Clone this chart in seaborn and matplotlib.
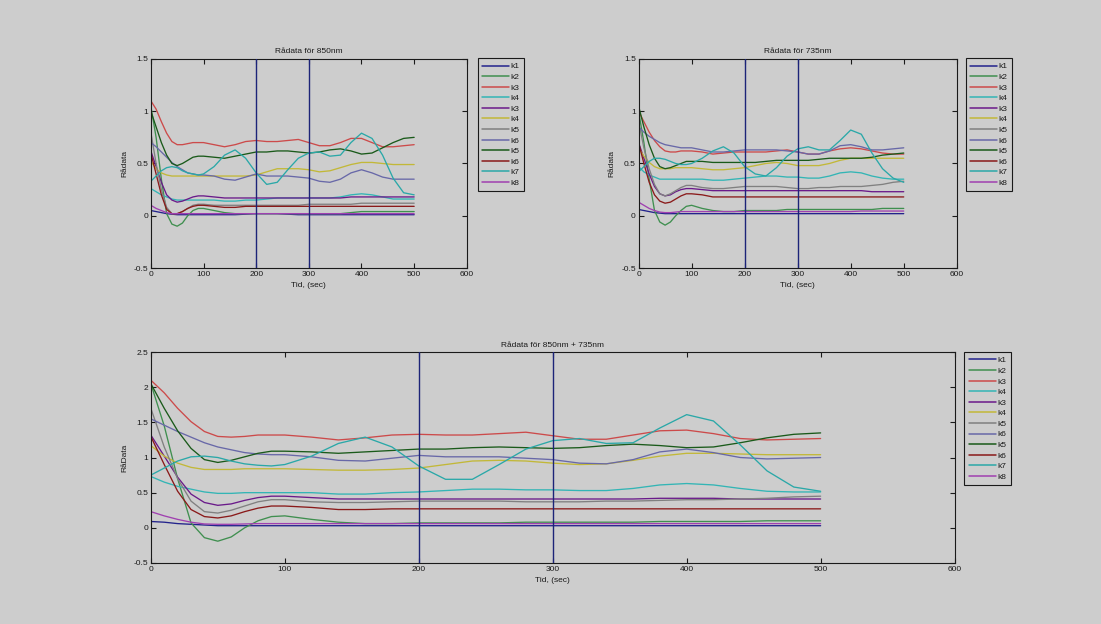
import numpy as np
import pandas as pd
import matplotlib
matplotlib.use("Agg")
import matplotlib.pyplot as plt
import seaborn as sns

# ---------------- data ----------------
T = [0, 10, 20, 30, 40, 50, 60, 70, 80, 90, 100, 120, 140, 160, 180, 200, 220, 240, 260,
     280, 300, 320, 340, 360, 380, 400, 420, 440, 460, 480, 500]

labels = ["k1", "k2", "k3", "k4", "k3", "k4", "k5", "k6", "k5", "k6", "k7", "k8"]
colors = ["#23238c", "#3f8f4f", "#cc4a4a", "#33b5b5", "#6a1a8a", "#c2b838",
          "#808080", "#6868a8", "#1a5a1a", "#8a1a1a", "#2aa8a8", "#a040b0"]

marker_times = [200, 300]

# 850 nm
a_k1 = [0.05, 0.04, 0.03, 0.02, 0.015, 0.01, 0.01, 0.01, 0.01, 0.01, 0.01, 0.01, 0.01, 0.01, 0.015, 0.02,
        0.02, 0.02, 0.015, 0.01, 0.01, 0.01, 0.01, 0.01, 0.01, 0.01, 0.01, 0.01, 0.01, 0.01, 0.01]
a_k2 = [1.05, 0.75, 0.35, 0.02, -0.08, -0.10, -0.07, 0.00, 0.05, 0.07, 0.07, 0.05, 0.03, 0.02, 0.02, 0.02,
        0.02, 0.02, 0.02, 0.02, 0.02, 0.02, 0.02, 0.02, 0.03, 0.04, 0.04, 0.04, 0.04, 0.04, 0.04]
a_k3 = [1.10, 1.02, 0.90, 0.79, 0.71, 0.68, 0.68, 0.69, 0.70, 0.70, 0.70, 0.68, 0.66, 0.68, 0.71, 0.72,
        0.71, 0.71, 0.72, 0.73, 0.70, 0.67, 0.67, 0.70, 0.74, 0.74, 0.70, 0.66, 0.66, 0.67, 0.68]
a_k4 = [0.26, 0.23, 0.20, 0.18, 0.16, 0.15, 0.15, 0.15, 0.15, 0.15, 0.15, 0.15, 0.14, 0.14, 0.15, 0.15,
        0.16, 0.17, 0.17, 0.17, 0.17, 0.17, 0.17, 0.18, 0.20, 0.21, 0.20, 0.18, 0.16, 0.16, 0.16]
a_k3b = [0.62, 0.47, 0.32, 0.20, 0.15, 0.13, 0.14, 0.16, 0.18, 0.19, 0.19, 0.18, 0.17, 0.17, 0.17, 0.17,
         0.17, 0.17, 0.17, 0.17, 0.17, 0.17, 0.17, 0.17, 0.18, 0.18, 0.18, 0.18, 0.18, 0.18, 0.18]
a_k4b = [0.52, 0.45, 0.41, 0.39, 0.38, 0.38, 0.38, 0.38, 0.38, 0.38, 0.38, 0.38, 0.38, 0.38, 0.38, 0.39,
         0.42, 0.45, 0.45, 0.45, 0.44, 0.42, 0.43, 0.46, 0.49, 0.51, 0.51, 0.50, 0.49, 0.49, 0.49]
a_k5 = [0.80, 0.50, 0.25, 0.08, 0.02, 0.02, 0.04, 0.07, 0.10, 0.11, 0.11, 0.10, 0.10, 0.10, 0.10, 0.10,
        0.10, 0.10, 0.10, 0.10, 0.11, 0.11, 0.11, 0.11, 0.11, 0.12, 0.12, 0.12, 0.12, 0.12, 0.12]
a_k6 = [0.70, 0.66, 0.61, 0.56, 0.51, 0.47, 0.44, 0.41, 0.40, 0.39, 0.39, 0.38, 0.35, 0.34, 0.37, 0.40,
        0.38, 0.38, 0.38, 0.37, 0.36, 0.33, 0.32, 0.35, 0.41, 0.44, 0.41, 0.37, 0.35, 0.35, 0.35]
a_k5b = [1.00, 0.85, 0.70, 0.58, 0.50, 0.48, 0.50, 0.53, 0.56, 0.57, 0.57, 0.56, 0.55, 0.57, 0.59, 0.61,
         0.61, 0.62, 0.62, 0.61, 0.60, 0.61, 0.63, 0.64, 0.62, 0.59, 0.60, 0.65, 0.70, 0.74, 0.75]
a_k6b = [0.60, 0.40, 0.20, 0.06, 0.02, 0.02, 0.04, 0.07, 0.09, 0.10, 0.10, 0.09, 0.08, 0.08, 0.09, 0.09,
         0.09, 0.09, 0.09, 0.09, 0.09, 0.09, 0.09, 0.09, 0.09, 0.09, 0.09, 0.09, 0.09, 0.09, 0.09]
a_k7 = [0.33, 0.38, 0.43, 0.46, 0.47, 0.46, 0.43, 0.41, 0.40, 0.39, 0.40, 0.47, 0.58, 0.63, 0.55, 0.41,
        0.30, 0.32, 0.44, 0.55, 0.60, 0.61, 0.57, 0.58, 0.70, 0.79, 0.74, 0.58, 0.36, 0.22, 0.20]
a_k8 = [0.10, 0.07, 0.05, 0.03, 0.02, 0.02, 0.02, 0.02, 0.02, 0.02, 0.02, 0.02, 0.02, 0.02, 0.02, 0.02,
        0.02, 0.02, 0.02, 0.02, 0.02, 0.02, 0.02, 0.02, 0.02, 0.02, 0.02, 0.02, 0.02, 0.02, 0.02]

# 735 nm
b_k1 = [0.06, 0.05, 0.04, 0.03, 0.025, 0.02, 0.02, 0.02, 0.02, 0.02, 0.02, 0.02, 0.02, 0.02, 0.02, 0.02,
        0.02, 0.02, 0.02, 0.02, 0.02, 0.02, 0.02, 0.02, 0.02, 0.02, 0.02, 0.02, 0.02, 0.02, 0.02]
b_k2 = [1.00, 0.70, 0.35, 0.05, -0.06, -0.09, -0.06, 0.00, 0.05, 0.09, 0.10, 0.07, 0.05, 0.04, 0.04, 0.05,
        0.05, 0.05, 0.05, 0.06, 0.06, 0.06, 0.06, 0.06, 0.06, 0.06, 0.06, 0.06, 0.07, 0.07, 0.07]
b_k3 = [1.00, 0.90, 0.80, 0.72, 0.66, 0.62, 0.61, 0.61, 0.62, 0.62, 0.62, 0.61, 0.59, 0.60, 0.61, 0.61,
        0.61, 0.61, 0.62, 0.63, 0.61, 0.59, 0.59, 0.62, 0.64, 0.65, 0.64, 0.62, 0.60, 0.59, 0.59]
b_k4 = [0.47, 0.42, 0.39, 0.37, 0.35, 0.35, 0.35, 0.35, 0.35, 0.35, 0.35, 0.35, 0.34, 0.34, 0.35, 0.36,
        0.37, 0.38, 0.38, 0.37, 0.37, 0.36, 0.36, 0.38, 0.41, 0.42, 0.41, 0.38, 0.36, 0.35, 0.35]
b_k3b = [0.70, 0.55, 0.40, 0.28, 0.21, 0.19, 0.20, 0.23, 0.25, 0.26, 0.26, 0.25, 0.24, 0.24, 0.24, 0.24,
         0.24, 0.24, 0.24, 0.24, 0.24, 0.24, 0.24, 0.24, 0.24, 0.24, 0.24, 0.23, 0.23, 0.23, 0.23]
b_k4b = [0.65, 0.57, 0.51, 0.47, 0.45, 0.45, 0.45, 0.46, 0.46, 0.46, 0.46, 0.45, 0.44, 0.44, 0.45, 0.46,
         0.48, 0.50, 0.51, 0.50, 0.48, 0.48, 0.48, 0.50, 0.53, 0.55, 0.55, 0.55, 0.55, 0.55, 0.55]
b_k5 = [0.90, 0.65, 0.45, 0.30, 0.21, 0.19, 0.21, 0.24, 0.27, 0.29, 0.29, 0.27, 0.26, 0.26, 0.27, 0.28,
        0.28, 0.28, 0.28, 0.27, 0.26, 0.26, 0.27, 0.27, 0.28, 0.28, 0.28, 0.29, 0.30, 0.32, 0.33]
b_k6 = [0.85, 0.80, 0.76, 0.73, 0.70, 0.68, 0.67, 0.66, 0.65, 0.65, 0.65, 0.63, 0.61, 0.61, 0.62, 0.63,
        0.63, 0.63, 0.63, 0.62, 0.61, 0.59, 0.59, 0.62, 0.67, 0.68, 0.66, 0.63, 0.63, 0.64, 0.65]
b_k5b = [1.05, 0.85, 0.68, 0.55, 0.47, 0.45, 0.46, 0.48, 0.50, 0.52, 0.52, 0.52, 0.51, 0.51, 0.51, 0.51,
         0.51, 0.52, 0.53, 0.53, 0.53, 0.53, 0.54, 0.55, 0.55, 0.55, 0.55, 0.56, 0.58, 0.59, 0.60]
b_k6b = [0.70, 0.50, 0.32, 0.20, 0.14, 0.12, 0.13, 0.16, 0.19, 0.21, 0.21, 0.20, 0.18, 0.18, 0.18, 0.18,
         0.18, 0.18, 0.18, 0.18, 0.18, 0.18, 0.18, 0.18, 0.18, 0.18, 0.18, 0.18, 0.18, 0.18, 0.18]
b_k7 = [0.42, 0.47, 0.52, 0.55, 0.55, 0.54, 0.52, 0.50, 0.49, 0.49, 0.50, 0.55, 0.62, 0.66, 0.60, 0.47,
        0.40, 0.38, 0.46, 0.57, 0.64, 0.66, 0.63, 0.63, 0.72, 0.82, 0.78, 0.60, 0.45, 0.36, 0.32]
b_k8 = [0.13, 0.10, 0.07, 0.05, 0.035, 0.03, 0.03, 0.035, 0.04, 0.04, 0.04, 0.04, 0.04, 0.04, 0.04, 0.04,
        0.04, 0.04, 0.04, 0.04, 0.04, 0.04, 0.04, 0.04, 0.04, 0.04, 0.045, 0.045, 0.045, 0.045, 0.045]

# 850 nm + 735 nm
c_k1 = [0.09, 0.08, 0.06, 0.05, 0.04, 0.03, 0.03, 0.03, 0.03, 0.03, 0.03, 0.03, 0.03, 0.03, 0.03, 0.03,
        0.03, 0.03, 0.03, 0.03, 0.03, 0.03, 0.03, 0.03, 0.03, 0.03, 0.03, 0.03, 0.03, 0.03, 0.03]
c_k2 = [2.05, 1.45, 0.70, 0.07, -0.14, -0.19, -0.13, 0.00, 0.10, 0.16, 0.17, 0.12, 0.08, 0.06, 0.06, 0.07,
        0.07, 0.07, 0.07, 0.08, 0.08, 0.08, 0.08, 0.08, 0.09, 0.09, 0.09, 0.09, 0.10, 0.10, 0.10]
c_k3 = [2.10, 1.92, 1.70, 1.51, 1.37, 1.30, 1.29, 1.30, 1.32, 1.32, 1.32, 1.29, 1.25, 1.28, 1.32, 1.33,
        1.32, 1.32, 1.34, 1.36, 1.31, 1.26, 1.26, 1.32, 1.38, 1.39, 1.34, 1.27, 1.25, 1.26, 1.27]
c_k4 = [0.73, 0.65, 0.59, 0.55, 0.51, 0.49, 0.49, 0.50, 0.50, 0.50, 0.50, 0.50, 0.48, 0.48, 0.50, 0.51,
        0.53, 0.55, 0.55, 0.54, 0.54, 0.53, 0.53, 0.56, 0.61, 0.63, 0.61, 0.56, 0.52, 0.51, 0.51]
c_k3b = [1.32, 1.02, 0.72, 0.48, 0.36, 0.32, 0.34, 0.39, 0.43, 0.45, 0.45, 0.43, 0.41, 0.41, 0.41, 0.41,
         0.41, 0.41, 0.41, 0.41, 0.41, 0.41, 0.41, 0.41, 0.42, 0.42, 0.42, 0.41, 0.41, 0.41, 0.41]
c_k4b = [1.17, 1.02, 0.92, 0.86, 0.83, 0.83, 0.83, 0.84, 0.84, 0.84, 0.84, 0.83, 0.82, 0.82, 0.83, 0.85,
         0.90, 0.95, 0.96, 0.95, 0.92, 0.90, 0.91, 0.96, 1.02, 1.06, 1.06, 1.05, 1.04, 1.04, 1.04]
c_k5 = [1.70, 1.15, 0.70, 0.38, 0.23, 0.21, 0.25, 0.31, 0.37, 0.40, 0.40, 0.37, 0.36, 0.36, 0.37, 0.38,
        0.38, 0.38, 0.38, 0.37, 0.37, 0.37, 0.38, 0.38, 0.39, 0.40, 0.40, 0.41, 0.42, 0.44, 0.45]
c_k6 = [1.55, 1.46, 1.37, 1.29, 1.21, 1.15, 1.11, 1.07, 1.05, 1.04, 1.04, 1.01, 0.96, 0.95, 0.99, 1.03,
        1.01, 1.01, 1.01, 0.99, 0.97, 0.92, 0.91, 0.97, 1.08, 1.12, 1.07, 1.00, 0.98, 0.99, 1.00]
c_k5b = [2.05, 1.70, 1.38, 1.13, 0.97, 0.93, 0.96, 1.01, 1.06, 1.09, 1.09, 1.08, 1.06, 1.08, 1.10, 1.12,
         1.12, 1.14, 1.15, 1.14, 1.13, 1.14, 1.17, 1.19, 1.17, 1.14, 1.15, 1.21, 1.28, 1.33, 1.35]
c_k6b = [1.30, 0.90, 0.52, 0.26, 0.16, 0.14, 0.17, 0.23, 0.28, 0.31, 0.31, 0.29, 0.26, 0.26, 0.27, 0.27,
         0.27, 0.27, 0.27, 0.27, 0.27, 0.27, 0.27, 0.27, 0.27, 0.27, 0.27, 0.27, 0.27, 0.27, 0.27]
c_k7 = [0.75, 0.85, 0.95, 1.01, 1.02, 1.00, 0.95, 0.91, 0.89, 0.88, 0.90, 1.02, 1.20, 1.29, 1.15, 0.88,
        0.69, 0.69, 0.90, 1.12, 1.24, 1.27, 1.20, 1.21, 1.42, 1.61, 1.52, 1.18, 0.81, 0.58, 0.52]
c_k8 = [0.23, 0.17, 0.12, 0.08, 0.055, 0.05, 0.05, 0.055, 0.06, 0.06, 0.06, 0.06, 0.06, 0.06, 0.06, 0.06,
        0.06, 0.06, 0.06, 0.06, 0.06, 0.06, 0.06, 0.06, 0.06, 0.06, 0.06, 0.06, 0.06, 0.06, 0.06]

series_850 = [a_k1, a_k2, a_k3, a_k4, a_k3b, a_k4b, a_k5, a_k6, a_k5b, a_k6b, a_k7, a_k8]
series_735 = [b_k1, b_k2, b_k3, b_k4, b_k3b, b_k4b, b_k5, b_k6, b_k5b, b_k6b, b_k7, b_k8]
series_sum = [c_k1, c_k2, c_k3, c_k4, c_k3b, c_k4b, c_k5, c_k6, c_k5b, c_k6b, c_k7, c_k8]

# ---------------- style ----------------
BG = "#cdcdcd"
INK = "#1a1a1a"
sns.set_style("ticks")
plt.rcParams["font.family"] = ["Liberation Sans", "DejaVu Sans"]
plt.rcParams.update({
    "font.size": 6,
    "axes.facecolor": BG,
    "figure.facecolor": BG,
    "axes.edgecolor": INK,
    "axes.linewidth": 0.8,
    "text.color": INK,
    "axes.labelcolor": INK,
    "xtick.color": INK,
    "ytick.color": INK,
    "xtick.labelsize": 6,
    "ytick.labelsize": 6,
})

fig = plt.figure(figsize=(11.01, 6.24), dpi=100)

ax1 = fig.add_axes([0.137, 0.5705, 0.287, 0.335])
ax2 = fig.add_axes([0.580, 0.5705, 0.289, 0.335])
ax3 = fig.add_axes([0.137, 0.0978, 0.730, 0.338])

panels = [
    (ax1, series_850, "Rådata för 850nm", "Rådata", (-0.5, 1.5), 0.434, 0.907),
    (ax2, series_735, "Rådata för 735nm", "Rådata", (-0.5, 1.5), 0.877, 0.907),
    (ax3, series_sum, "Rådata för 850nm + 735nm", "RåData", (-0.5, 2.5), 0.876, 0.436),
]

for ax, series, title, ylab, ylim, lx, ly in panels:
    handles = []
    for vals, lab, col in zip(series, labels, colors):
        df = pd.DataFrame({"t": T, "v": vals})
        sns.lineplot(data=df, x="t", y="v", color=col, linewidth=0.95, ax=ax,
                     errorbar=None, label=lab, legend=False)
        handles.append(ax.get_lines()[-1])
    for mt in marker_times:
        ax.axvline(mt, color="#1c2478", linewidth=1.0, zorder=5)
    ax.set_xlim(0, 600)
    ax.set_ylim(*ylim)
    ax.set_xticks(np.arange(0, 601, 100))
    yt = np.arange(ylim[0], ylim[1] + 0.01, 0.5)
    ax.set_yticks(yt)
    ax.set_yticklabels([("%g" % v) for v in yt])
    ax.tick_params(direction="in", length=3.5, width=0.8, top=True, right=True, pad=2)
    for s in ax.spines.values():
        s.set_visible(True)
        s.set_color(INK)
    ax.set_title(title, fontsize=6, pad=4)
    ax.set_xlabel("Tid, (sec)", fontsize=6, labelpad=3)
    ax.set_ylabel(ylab, fontsize=6, labelpad=4)
    leg = ax.legend(handles, labels, loc="upper left", bbox_to_anchor=(lx, ly),
                    bbox_transform=fig.transFigure, fontsize=6, frameon=True,
                    fancybox=False, framealpha=1, facecolor=BG, edgecolor=INK,
                    handlelength=3.2, handletextpad=0.2, labelspacing=0.33,
                    borderpad=0.55, borderaxespad=0)
    leg.get_frame().set_linewidth(0.8)
    for line in leg.get_lines():
        line.set_linewidth(1.1)

fig.savefig("out.png", dpi=100, facecolor=BG)
